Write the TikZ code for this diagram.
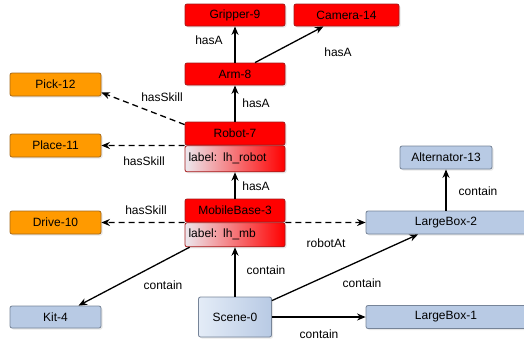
\documentclass[tikz,border=0pt]{standalone}
\usepackage{fontspec}
\setmainfont{Liberation Sans}
\usetikzlibrary{arrows.meta, shadows}

\definecolor{boxred}{RGB}{255,0,0}
\definecolor{redline}{RGB}{165,25,25}
\definecolor{boxorange}{RGB}{255,154,0}
\definecolor{orangeline}{RGB}{165,105,25}
\definecolor{boxblue}{RGB}{184,202,228}
\definecolor{blueline}{RGB}{118,132,152}
\definecolor{scenelight}{RGB}{228,236,247}
\definecolor{labelgray}{RGB}{236,232,238}

\begin{document}
\begin{tikzpicture}[x=1pt, y=-1pt,
        font=\fontsize{12}{14}\selectfont,
        box/.style={draw, rounded corners=2pt, line width=0.8pt, inner sep=0pt,
            drop shadow={opacity=0.18, shadow xshift=1.5pt, shadow yshift=-1.5pt}},
        redbox/.style={box, fill=boxred, draw=redline, minimum width=100pt, minimum height=22pt},
        labbox/.style={box, draw=redline, left color=labelgray, right color=boxred,
            minimum width=100pt, minimum height=26pt, text width=93pt, align=left},
        skillbox/.style={box, fill=boxorange, draw=orangeline, minimum width=91pt, minimum height=23pt},
        objbox/.style={box, fill=boxblue, draw=blueline, minimum height=23pt},
        rel/.style={-{Stealth[length=8.5pt, width=7pt]}, line width=1.3pt},
        skill/.style={rel, dash pattern=on 6pt off 4pt}]
        \useasboundingbox (0,0) rectangle (524,341);

        \node[redbox] (gripper) at (235,15) {Gripper-9};
        \node[redbox, minimum width=105pt] (camera) at (346.5,15) {Camera-14};
        \node[redbox] (arm) at (235,74) {Arm-8};
        \node[redbox, minimum height=23pt] (robot) at (235,133.5) {Robot-7};
        \node[labbox, anchor=north] (robotlab) at (robot.south) {label: lh\_robot};
        \node[redbox, minimum height=23pt] (base) at (235,210.5) {MobileBase-3};
        \node[labbox, anchor=north, minimum height=24pt] (baselab) at (base.south) {label: lh\_mb};

        \node[skillbox] (pick) at (55.5,84.5) {Pick-12};
        \node[skillbox] (place) at (55.5,145.5) {Place-11};
        \node[skillbox] (drive) at (55.5,222.5) {Drive-10};

        \node[objbox, minimum width=92pt] (alternator) at (446,157.5) {Alternator-13};
        \node[objbox, minimum width=160pt] (lbtwo) at (446,222.5) {LargeBox-2};
        \node[objbox, minimum width=160pt] (lbone) at (446,317) {LargeBox-1};
        \node[objbox, minimum width=91pt, minimum height=22pt] (kit) at (55.5,317) {Kit-4};
        \node[objbox, minimum width=73pt, minimum height=40pt,
            left color=scenelight, right color=boxblue] (scene) at (235,317) {Scene-0};

        \draw[rel] (arm) -- (gripper);
        \draw[rel] ([xshift=20pt]arm.north) -- ([xshift=-23pt]camera.south);
        \draw[rel] (robot) -- (arm);
        \draw[rel] (base) -- (robotlab);
        \draw[skill] ([yshift=-3pt]robot.north west) -- ([yshift=-8pt]pick.east);
        \draw[skill] (robot.south west) -- (place.east);
        \draw[skill] (base.south west) -- (drive.east);
        \draw[skill] (base.south east) -- (lbtwo.west);
        \draw[rel] ([xshift=5pt]baselab.south west) -- ([xshift=23pt]kit.north);
        \draw[rel] (scene) -- (baselab);
        \draw[rel] ([yshift=-4pt]scene.north east) -- ([xshift=-28pt]lbtwo.south);
        \draw[rel] (scene) -- (lbone);
        \draw[rel] (lbtwo) -- (alternator);

        \node (lgripper) at (209,40) {hasA};
        \node (lcamera) at (338,52) {hasA};
        \node (larm) at (256,103) {hasA};
        \node (lrobot) at (256,186) {hasA};
        \node (lpick) at (162,97) {hasSkill};
        \node (lplace) at (144,161) {hasSkill};
        \node (ldrive) at (146,210) {hasSkill};
        \node (lat) at (326,243) {robotAt};
        \node (lkit) at (163,285) {contain};
        \node (lbase) at (266,270) {contain};
        \node (llbtwo) at (362,283) {contain};
        \node (llbone) at (319,334) {contain};
        \node (lalt) at (478,191) {contain};
\end{tikzpicture}
\end{document}
